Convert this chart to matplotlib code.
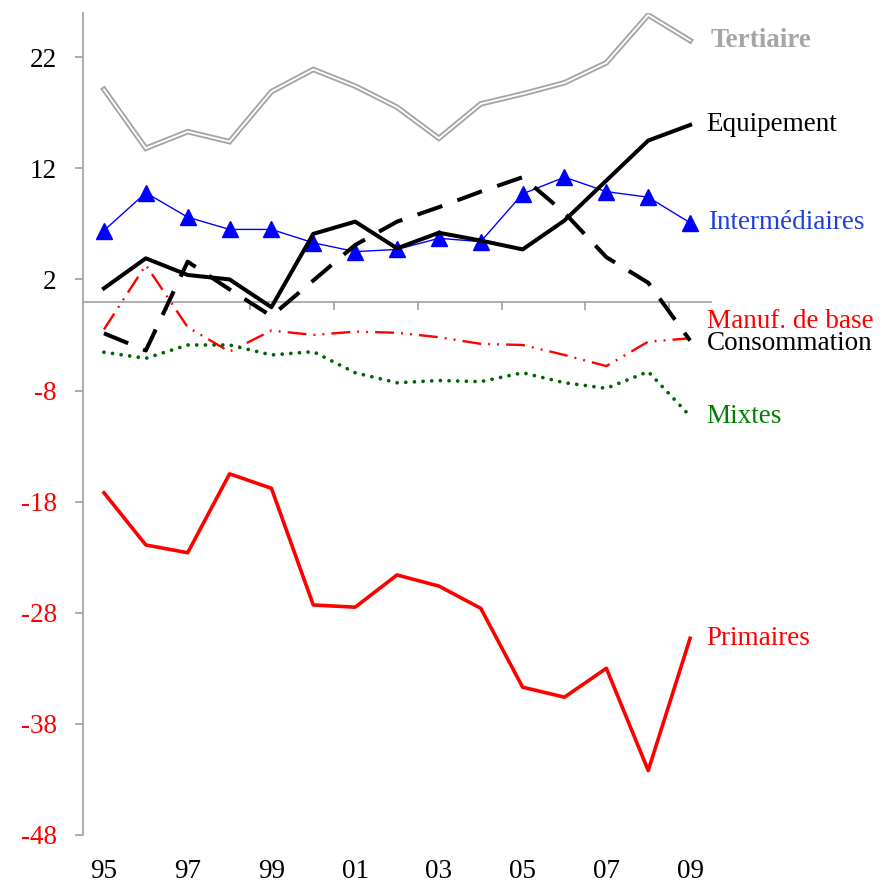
import numpy as np
import matplotlib
matplotlib.use("Agg")
import matplotlib.pyplot as plt
import matplotlib.transforms as mtransforms

plt.rcParams['font.family'] = ['Liberation Serif', 'DejaVu Serif']

# years 1995-2009, labels shown every other year
years = ["95", "96", "97", "98", "99", "00", "01", "02", "03", "04", "05", "06", "07", "08", "09"]

tertiaire = [19.1, 13.8, 15.3, 14.4, 18.9, 20.9, 19.4, 17.5, 14.7, 17.8, 18.7, 19.7, 21.5, 25.8, 23.5]
equipement = [1.2, 3.9, 2.4, 2.0, -0.5, 6.1, 7.2, 4.8, 6.2, 5.5, 4.7, 7.3, 10.9, 14.5, 15.9]
intermediaires = [6.4, 9.8, 7.6, 6.5, 6.5, 5.3, 4.5, 4.7, 5.7, 5.4, 9.7, 11.2, 9.9, 9.4, 7.1]
manuf_base = [-2.5, 3.3, -2.3, -4.5, -2.6, -3.0, -2.7, -2.8, -3.2, -3.8, -3.9, -4.8, -5.8, -3.6, -3.3]
consommation = [-2.85, -4.4, 3.6, 1.1, -1.3, 1.9, 5.1, 7.2, 8.5, 9.9, 11.2, 8.0, 4.0, 1.7, -3.5]
mixtes = [-4.55, -5.1, -3.9, -3.9, -4.8, -4.5, -6.4, -7.3, -7.1, -7.2, -6.4, -7.3, -7.8, -6.3, -10.3]
primaires = [-17.2, -21.9, -22.6, -15.5, -16.8, -27.3, -27.5, -24.6, -25.6, -27.6, -34.7, -35.6, -33.0, -42.2, -30.3]

yticks = [-48, -38, -28, -18, -8, 2, 12, 22]

x = np.arange(len(years))
gray = "#a6a6a6"

fig = plt.figure(figsize=(8.87, 8.86), dpi=100)
ax = fig.add_axes([0.0936, 0.0576, 0.708, 0.928])

# Tertiaire: double grey line
ax.plot(x, tertiaire, color=gray, lw=4.0, solid_joinstyle='miter', zorder=3)
ax.plot(x, tertiaire, color="white", lw=1.3, solid_joinstyle='miter', zorder=3)

ax.plot(x, intermediaires, color="#0000ff", lw=1.0, marker="^", markersize=11, zorder=4)
ax.plot(x, equipement, color="black", lw=2.9, zorder=5)
ax.plot(x, consommation, color="black", lw=2.9, dashes=(6.5, 4), zorder=5)
ax.plot(x, manuf_base, color="#ff0000", lw=1.7, dashes=(8, 3, 0.8, 3, 0.8, 3), zorder=4)
ax.plot(x, mixtes, color="#006400", lw=2.7, dashes=(0.01, 2.3), dash_capstyle='round', zorder=4)
ax.plot(x, primaires, color="#ff0000", lw=2.6, zorder=4)

# series names next to last point
labels = [
    ("Tertiaire", tertiaire, gray, "bold", 0, 15),
    ("Equipement", equipement, "black", "normal", 0, 12),
    ("Intermédiaires", intermediaires, "#1f3fd6", "normal", 0, 13),
    ("Manuf. de base", manuf_base, "#ff0000", "normal", 12, 12),
    ("Consommation", consommation, "black", "normal", -2, 12),
    ("Mixtes", mixtes, "#008000", "normal", 0, 12),
    ("Primaires", primaires, "#ff0000", "normal", 0, 12),
]
for name, vals, col, wt, dy, dx in labels:
    ax.annotate(name, (x[-1], vals[-1]), xytext=(dx, dy), textcoords="offset points",
                va="center", ha="left", color=col, fontweight=wt, fontsize=19.5,
                annotation_clip=False)

ax.set_xlim(-0.5, 14.5)
ax.set_ylim(-48, 26)

for s in ["top", "right"]:
    ax.spines[s].set_visible(False)
ax.spines["left"].set_color("#a0a0a0")
ax.spines["left"].set_linewidth(1.2)
ax.spines["bottom"].set_position(("data", 0))
ax.spines["bottom"].set_color("#a0a0a0")
ax.spines["bottom"].set_linewidth(1.2)

ax.set_yticks(yticks)
ax.set_yticklabels([str(v) for v in yticks], fontsize=19.5)
for lab, v in zip(ax.get_yticklabels(), yticks):
    lab.set_color("red" if v < 0 else "black")
ax.tick_params(axis="y", length=6, width=1.2, color="#a0a0a0", pad=13)

ax.set_xticks(np.arange(1.5, 14, 2))
ax.set_xticklabels([])
ax.tick_params(axis="x", length=6, width=1.2, color="#a0a0a0", direction="out")

trans = mtransforms.blended_transform_factory(ax.transData, ax.transAxes)
for i in range(0, len(years), 2):
    ax.text(x[i], -0.045, years[i], transform=trans, ha="center", va="center", fontsize=19.5)

fig.savefig("out.png", dpi=100)
